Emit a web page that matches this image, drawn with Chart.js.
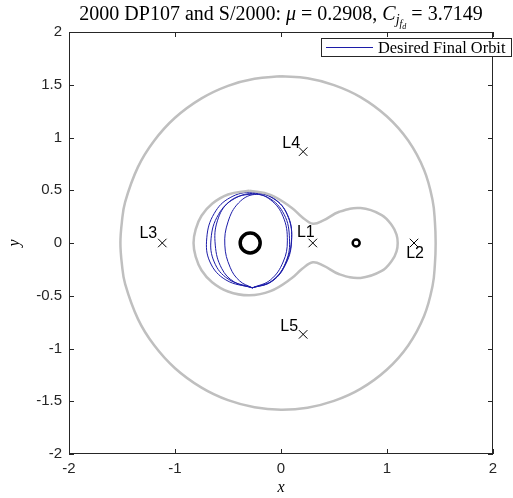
<!DOCTYPE html>
<html>
<head>
<meta charset="utf-8">
<script src="https://cdn.jsdelivr.net/npm/chart.js@4"></script>
<style>
  html, body { margin: 0; padding: 0; background: #fff; }
  canvas { display: block; }
</style>
</head>
<body>
<canvas id="orbitChart" width="513" height="498"></canvas>
<script>
// ======== Values ========
const primaries = [[-0.2908, 0], [0.7092, 0]];
const lagrangeNames = ["L1", "L2", "L3", "L4", "L5"];
const lagrangePoints = [[0.30, 0], [1.255, 0], [-1.12, 0], [0.209, 0.866], [0.209, -0.866]];

// outer zero-velocity curve (starts at the top)
const outerCurve = [
  [0.00, 1.58], [0.25, 1.561], [0.50, 1.497], [0.75, 1.383], [1.00, 1.199], [1.20, 0.971],
  [1.35, 0.692], [1.43, 0.406], [1.452, 0.20], [1.459, 0], [1.452, -0.20], [1.43, -0.406],
  [1.35, -0.692], [1.20, -0.971], [1.00, -1.199], [0.75, -1.383], [0.50, -1.497], [0.25, -1.561],
  [0.00, -1.58], [-0.25, -1.557], [-0.50, -1.49], [-0.75, -1.371], [-1.00, -1.187], [-1.20, -0.965],
  [-1.35, -0.719], [-1.47, -0.39], [-1.501, -0.20], [-1.515, 0], [-1.501, 0.20], [-1.47, 0.39],
  [-1.35, 0.719], [-1.20, 0.965], [-1.00, 1.187], [-0.75, 1.371], [-0.50, 1.49], [-0.25, 1.557],
  [0.00, 1.58]
];

// inner (dumbbell) zero-velocity curve (starts at the top of the left lobe)
const innerCurve = [
  [-0.30, 0.496], [-0.10, 0.457], [0.10, 0.335], [0.20, 0.245], [0.30, 0.183], [0.40, 0.214],
  [0.55, 0.296], [0.75, 0.331], [0.95, 0.265], [1.05, 0.162], [1.09, 0.08], [1.101, 0],
  [1.09, -0.08], [1.05, -0.162], [0.95, -0.265], [0.75, -0.331], [0.55, -0.296], [0.40, -0.214],
  [0.30, -0.183], [0.20, -0.245], [0.10, -0.335], [-0.10, -0.457], [-0.30, -0.496],
  [-0.50, -0.46], [-0.65, -0.372], [-0.75, -0.258], [-0.805, -0.13], [-0.825, 0],
  [-0.805, 0.13], [-0.75, 0.258], [-0.65, 0.372], [-0.50, 0.46], [-0.30, 0.496]
];

// desired final orbit (several revolutions, each starting at the low crossing point)
const orbitRev1 = [
  [-0.27, -0.425], [-0.10, -0.37], [0.04, -0.20], [0.10, 0.05], [0.06, 0.27], [-0.07, 0.42],
  [-0.27, 0.48], [-0.48, 0.43], [-0.63, 0.28], [-0.70, 0.05], [-0.67, -0.18], [-0.52, -0.35],
  [-0.27, -0.425]
];
const orbitRev2 = [
  [-0.27, -0.425], [-0.08, -0.36], [0.05, -0.19], [0.10, 0.02], [0.07, 0.24], [-0.05, 0.41],
  [-0.24, 0.47], [-0.44, 0.42], [-0.59, 0.27], [-0.66, 0.04], [-0.63, -0.18], [-0.50, -0.34],
  [-0.27, -0.425]
];
const orbitRev3 = [
  [-0.27, -0.425], [-0.07, -0.35], [0.05, -0.17], [0.08, 0.04], [0.03, 0.27], [-0.12, 0.43],
  [-0.31, 0.46], [-0.49, 0.39], [-0.60, 0.21], [-0.62, -0.02], [-0.56, -0.24], [-0.44, -0.37],
  [-0.27, -0.425]
];
const orbitRev4 = [
  [-0.27, -0.425], [-0.10, -0.35], [0.02, -0.18], [0.06, 0.02], [0.02, 0.25], [-0.10, 0.41],
  [-0.25, 0.46], [-0.40, 0.38], [-0.50, 0.20], [-0.53, -0.02], [-0.48, -0.23], [-0.39, -0.36],
  [-0.27, -0.425]
];

const xTicks = [-2, -1, 0, 1, 2];
const yTicks = [-2, -1.5, -1, -0.5, 0, 0.5, 1, 1.5, 2];
const legendLabel = "Desired Final Orbit";

// ======== Helpers ========
const toPoints = arr => arr.map(p => ({ x: p[0], y: p[1] }));
const GRAY = "#bfbfbf";
const BLUE = "#1c1ca8";
const INK = "#262626";

function curveSet(pts, color, width, label) {
  return {
    label: label || "",
    data: toPoints(pts),
    showLine: true,
    borderColor: color,
    borderWidth: width,
    pointRadius: 0,
    tension: 0.4,
    fill: false
  };
}

// ======== Custom drawing: box, inner ticks, title, labels, legend ========
const matlabLook = {
  id: "matlabLook",
  afterDraw(chart) {
    const { ctx, chartArea: a, scales } = chart;
    const xs = scales.x, ys = scales.y;
    ctx.save();

    // axes box + inward ticks
    ctx.strokeStyle = INK;
    ctx.lineWidth = 1;
    ctx.strokeRect(a.left + 0.5, a.top + 0.5, a.right - a.left - 1, a.bottom - a.top - 1);
    ctx.beginPath();
    xTicks.forEach(v => {
      const px = Math.round(xs.getPixelForValue(v)) + 0.5;
      ctx.moveTo(px, a.bottom); ctx.lineTo(px, a.bottom - 5);
      ctx.moveTo(px, a.top); ctx.lineTo(px, a.top + 5);
    });
    yTicks.forEach(v => {
      const py = Math.round(ys.getPixelForValue(v)) + 0.5;
      ctx.moveTo(a.left, py); ctx.lineTo(a.left + 5, py);
      ctx.moveTo(a.right, py); ctx.lineTo(a.right - 5, py);
    });
    ctx.stroke();

    // Lagrange point labels
    const offs = { L1: [-7, -10], L2: [1, 11], L3: [-14, -9], L4: [-12, -8], L5: [-14, -8] };
    ctx.fillStyle = "#000";
    ctx.font = "16px 'Liberation Sans', Arial, sans-serif";
    ctx.textAlign = "center";
    ctx.textBaseline = "middle";
    lagrangeNames.forEach((n, i) => {
      const px = xs.getPixelForValue(lagrangePoints[i][0]);
      const py = ys.getPixelForValue(lagrangePoints[i][1]);
      ctx.fillText(n, px + offs[n][0], py + offs[n][1]);
    });

    // title with LaTeX-like subscripts
    const serif = "'Liberation Serif', 'Times New Roman', serif";
    const segs = [
      { t: "2000 DP107 and S/2000: ", f: "20px " + serif, dy: 0 },
      { t: "\u03BC", f: "italic 20px " + serif, dy: 0 },
      { t: " = 0.2908, ", f: "20px " + serif, dy: 0 },
      { t: "C", f: "italic 20px " + serif, dy: 0 },
      { t: "j", f: "italic 14px " + serif, dy: 4 },
      { t: "f", f: "italic 10px " + serif, dy: 7 },
      { t: "d", f: "italic 8px " + serif, dy: 9 },
      { t: " = 3.7149", f: "20px " + serif, dy: 0 }
    ];
    let total = 0;
    segs.forEach(s => { ctx.font = s.f; s.w = ctx.measureText(s.t).width; total += s.w; });
    let tx = (a.left + a.right) / 2 - total / 2;
    ctx.textAlign = "left";
    ctx.textBaseline = "alphabetic";
    ctx.fillStyle = "#000";
    segs.forEach(s => { ctx.font = s.f; ctx.fillText(s.t, tx, 20 + s.dy); tx += s.w; });

    // axis labels
    ctx.font = "italic 16px " + serif;
    ctx.textAlign = "center";
    ctx.fillText("x", (a.left + a.right) / 2, 492);
    ctx.save();
    ctx.translate(19, (a.top + a.bottom) / 2);
    ctx.rotate(-Math.PI / 2);
    ctx.fillText("y", 0, 0);
    ctx.restore();

    // legend box
    const lx = 321, ly = 38, lw = 191, lh = 19;
    ctx.fillStyle = "#fff";
    ctx.fillRect(lx, ly, lw, lh);
    ctx.strokeStyle = INK;
    ctx.strokeRect(lx + 0.5, ly + 0.5, lw - 1, lh - 1);
    ctx.strokeStyle = BLUE;
    ctx.beginPath();
    ctx.moveTo(326, ly + lh / 2); ctx.lineTo(373, ly + lh / 2);
    ctx.stroke();
    ctx.fillStyle = "#000";
    ctx.font = "16.4px " + serif;
    ctx.textAlign = "left";
    ctx.textBaseline = "middle";
    ctx.fillText(legendLabel, 378, ly + lh / 2 + 1);

    ctx.restore();
  }
};

// ======== Chart ========
const tickFont = { family: "'Liberation Sans', Arial, sans-serif", size: 15 };
const ctx = document.getElementById("orbitChart").getContext("2d");
const orbitChart = new Chart(ctx, {
  type: "scatter",
  data: {
    datasets: [
      curveSet(outerCurve, GRAY, 2.5),
      curveSet(innerCurve, GRAY, 2.5),
      curveSet(orbitRev1, BLUE, 1, legendLabel),
      curveSet(orbitRev2, BLUE, 1),
      curveSet(orbitRev3, BLUE, 1),
      curveSet(orbitRev4, BLUE, 1),
      {
        data: toPoints(primaries.slice(0, 1)),
        pointStyle: "circle", pointRadius: 10, borderWidth: 3.5,
        borderColor: "#000", backgroundColor: "rgba(0,0,0,0)"
      },
      {
        data: toPoints(primaries.slice(1)),
        pointStyle: "circle", pointRadius: 3.5, borderWidth: 2.5,
        borderColor: "#000", backgroundColor: "rgba(0,0,0,0)"
      },
      {
        data: toPoints(lagrangePoints),
        pointStyle: "crossRot", pointRadius: 6, borderWidth: 1,
        borderColor: "#000", backgroundColor: "#000"
      }
    ]
  },
  options: {
    responsive: false,
    animation: false,
    devicePixelRatio: 1,
    layout: { padding: { top: 32, right: 20, left: 0, bottom: 0 } },
    plugins: { legend: { display: false }, tooltip: { enabled: false }, title: { display: false } },
    scales: {
      x: {
        type: "linear", min: -2, max: 2,
        afterBuildTicks: s => { s.ticks = xTicks.map(v => ({ value: v })); },
        afterFit: s => { s.height = 44; },
        grid: { display: false, drawTicks: false },
        border: { display: false },
        ticks: { color: INK, padding: 6, font: tickFont, callback: v => String(v) }
      },
      y: {
        type: "linear", min: -2, max: 2,
        afterBuildTicks: s => { s.ticks = yTicks.map(v => ({ value: v })); },
        afterFit: s => { s.width = 69; },
        grid: { display: false, drawTicks: false },
        border: { display: false },
        ticks: { color: INK, padding: 7, font: tickFont, callback: v => String(v) }
      }
    }
  },
  plugins: [matlabLook]
});
</script>
</body>
</html>
